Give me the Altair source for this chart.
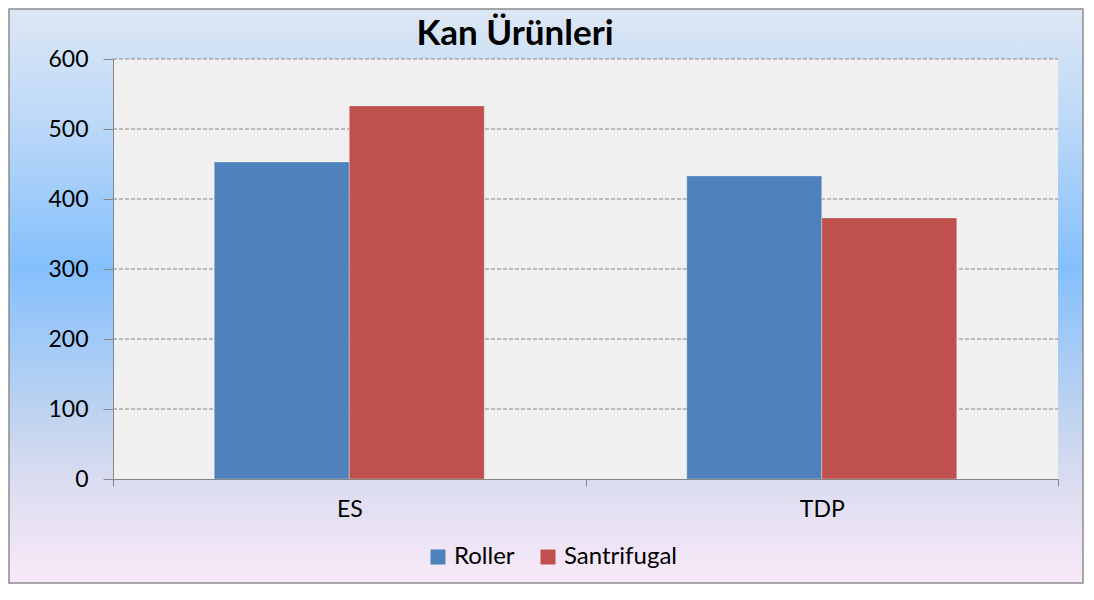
import altair as alt
import pandas as pd

categories = ["ES", "TDP"]
series = ["Roller", "Santrifugal"]
roller = [453, 433]
santrifugal = [533, 373]
y_ticks = [0, 100, 200, 300, 400, 500, 600]
colors = ["#4f81bd", "#c0504d"]
title_text = "Kan Ürünleri"

rows = []
for i, c in enumerate(categories):
    rows.append({"cat": c, "series": series[0], "value": roller[i]})
    rows.append({"cat": c, "series": series[1], "value": santrifugal[i]})
df = pd.DataFrame(rows)

W, H = 945, 420
PL, PT, PR, PB = 105, 51, 26, 105
FONT = "Lato"

yscale = alt.Scale(domain=[0, 600], nice=False)
yaxis = alt.Axis(values=y_ticks, tickSize=10, tickColor="#868686",
                 domainColor="#868686", labelFont=FONT, labelFontSize=23,
                 labelColor="#000000", labelPadding=15, zindex=1, grid=False,
                 title=None)

grad = alt.LinearGradient(
    gradient="linear", x1=0, x2=0, y1=0, y2=1,
    stops=[
        alt.GradientStop(color="#dde7f4", offset=0.0),
        alt.GradientStop(color="#bcd8f8", offset=0.2),
        alt.GradientStop(color="#84c0fd", offset=0.45),
        alt.GradientStop(color="#c2d4ef", offset=0.72),
        alt.GradientStop(color="#dadcf0", offset=0.82),
        alt.GradientStop(color="#f9e9f8", offset=1.0),
    ],
)

bg = alt.Chart(alt.Data(values=[{}])).mark_rect(
    fill=grad, stroke="#8c8c8c", strokeWidth=1.5
).encode(
    x=alt.value(-PL + 1), x2=alt.value(W + PR - 1),
    y=alt.value(-PT + 1), y2=alt.value(H + PB - 1),
)

plotbg = alt.Chart(alt.Data(values=[{}])).mark_rect(fill="#f0f0f0").encode(
    x=alt.value(0), x2=alt.value(W), y=alt.value(0), y2=alt.value(H)
)

grid = alt.Chart(pd.DataFrame({"value": y_ticks[1:]})).mark_rule(
    color="#868686", strokeDash=[4, 2], strokeWidth=1.2
).encode(
    y=alt.Y("value:Q", scale=yscale, axis=yaxis),
    x=alt.value(0), x2=alt.value(W),
)

bars = alt.Chart(df).mark_bar(stroke="#ffffff", strokeOpacity=0.4, strokeWidth=0.8).encode(
    x=alt.X("cat:N", sort=categories, title=None,
            scale=alt.Scale(paddingInner=0, paddingOuter=0),
            axis=alt.Axis(labelAngle=0, tickBand="extent", tickSize=7,
                          tickColor="#868686", domainColor="#868686",
                          labelFont=FONT, labelFontSize=23, labelColor="#000000",
                          labelPadding=12, zindex=1, grid=False)),
    xOffset=alt.XOffset("series:N", sort=series,
                        scale=alt.Scale(paddingInner=0, paddingOuter=0.75)),
    y=alt.Y("value:Q", scale=yscale, axis=yaxis),
    color=alt.Color("series:N", sort=series,
                    scale=alt.Scale(domain=series, range=colors),
                    legend=alt.Legend(orient="none", legendX=313, legendY=486,
                                      direction="horizontal", title=None,
                                      symbolType="square", symbolSize=225,
                                      symbolStrokeWidth=0, labelFont=FONT,
                                      labelFontSize=24, labelColor="#000000",
                                      labelOffset=4, columnPadding=21, padding=0)),
)

title = alt.Chart(alt.Data(values=[{"t": title_text}])).mark_text(
    font=FONT, fontSize=35, fontWeight="bold", align="center", baseline="middle",
    color="#000000"
).encode(text="t:N", x=alt.value(402), y=alt.value(-25))

chart = alt.layer(bg, plotbg, grid, bars, title).properties(
    width=W, height=H,
    padding={"left": PL, "top": PT, "right": PR, "bottom": PB},
    autosize=alt.AutoSizeParams(type="none"),
).configure_view(stroke=None)

chart.save("out.html", embed_options={"renderer": "svg", "actions": False})
